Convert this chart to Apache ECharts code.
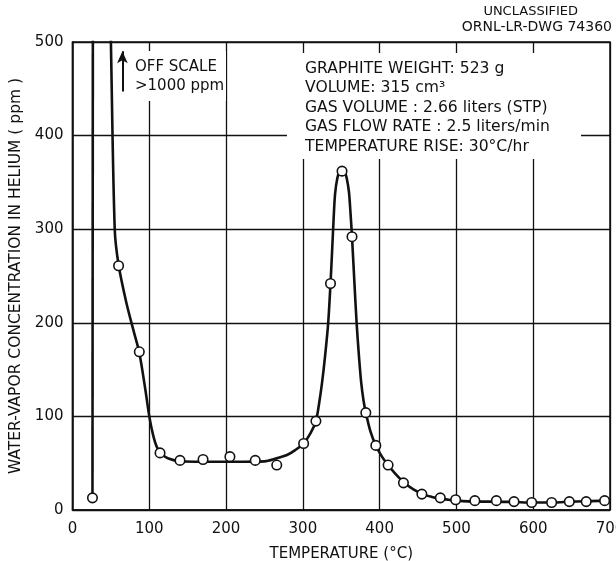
<!DOCTYPE html>
<html>
<head>
<meta charset="utf-8">
<script src="https://cdn.jsdelivr.net/npm/echarts@6/dist/echarts.min.js"></script>
<style>
  html, body { margin: 0; padding: 0; background: #fff; }
  #chart { width: 616px; height: 561px; }
</style>
</head>
<body>
<div id="chart"></div>
<script>
// measured points (open circles)
const measuredTemp = [26, 60, 87, 114, 140, 170, 205, 238, 266, 301, 317, 336, 351, 364, 382, 395, 411, 431, 455, 479, 499, 524, 552, 575, 598, 624, 647, 669, 693];
const measuredPpm  = [13, 261, 169, 61, 53, 54, 57, 53, 48, 71, 95, 242, 362, 292, 104, 69, 48, 29, 17, 13, 11, 10, 10, 9, 8, 8, 9, 9, 10];

// first release: goes off scale (>1000 ppm)
const spikeTemp = [26, 27];
const spikePpm  = [13, 1000];

// hand-drawn fitted curve
const curveTemp = [47.5, 50, 55, 60, 70, 80, 87, 95, 100, 105, 110, 116, 125, 140, 170, 210, 250, 265, 280, 290, 301, 310, 317, 321, 325, 329, 333, 336, 338, 340, 342, 345, 348, 351, 354, 357, 360, 362, 364, 367, 370, 373, 376, 379, 382, 388, 395, 403, 411, 420, 432, 444, 456, 468, 479, 490, 500, 525, 550, 575, 600, 625, 650, 675, 700];
const curvePpm  = [600, 500, 300, 262, 222, 190, 168, 128, 100, 80, 67, 60, 55, 52, 51.5, 51.5, 52, 55, 59, 64, 71, 82, 95, 113, 136, 165, 200, 242, 275, 310, 338, 355, 362, 365, 363, 355, 340, 318, 292, 245, 200, 165, 136, 117, 104, 84, 69, 57, 48, 39, 29, 22, 17, 14, 12, 11, 10, 9, 9, 8.5, 8, 8, 9, 9.5, 10];

const xTicks = [0, 100, 200, 300, 400, 500, 600, 700];
const yTicks = [0, 100, 200, 300, 400, 500];

const infoLines = [
  'GRAPHITE WEIGHT: 523 g',
  'VOLUME: 315 cm³',
  'GAS VOLUME : 2.66 liters (STP)',
  'GAS FLOW RATE : 2.5 liters/min',
  'TEMPERATURE RISE: 30°C/hr'
];

const ink = '#111';
const font = 'DejaVu Sans';

const chart = echarts.init(document.getElementById('chart'), null, {renderer: 'canvas'});

const zip = (a, b) => a.map((v, i) => [v, b[i]]);

const option = {
  backgroundColor: '#fff',
  animation: false,
  textStyle: {fontFamily: font, color: ink},
  grid: {
    left: 72.5,
    right: 6,
    top: 42,
    bottom: 51,
    outerBoundsMode: 'none',
    containLabel: false,
    show: true,
    borderColor: ink,
    borderWidth: 1.5,
    backgroundColor: 'transparent'
  },
  xAxis: {
    type: 'value',
    min: xTicks[0],
    max: xTicks[xTicks.length - 1],
    interval: 100,
    name: 'TEMPERATURE (°C)',
    nameLocation: 'middle',
    nameGap: 37,
    nameTextStyle: {fontSize: 15, color: ink, fontFamily: font},
    axisLine: {show: true, lineStyle: {color: ink, width: 1.5}},
    axisTick: {show: false},
    axisLabel: {fontSize: 15, color: ink, margin: 12, fontFamily: font},
    splitLine: {show: true, lineStyle: {color: ink, width: 1.3}}
  },
  yAxis: {
    type: 'value',
    min: yTicks[0],
    max: yTicks[yTicks.length - 1],
    interval: 100,
    name: 'WATER-VAPOR CONCENTRATION IN HELIUM ( ppm )',
    nameLocation: 'middle',
    nameGap: 48,
    nameTextStyle: {fontSize: 15.5, color: ink, fontFamily: font},
    axisLine: {show: true, lineStyle: {color: ink, width: 1.5}},
    axisTick: {show: false},
    axisLabel: {fontSize: 15, color: ink, margin: 9, fontFamily: font},
    splitLine: {show: true, lineStyle: {color: ink, width: 1.3}}
  },
  graphic: [
    {type: 'rect', z: 10, shape: {x: 287, y: 53, width: 294, height: 106}, style: {fill: '#fff'}},
    {type: 'rect', z: 10, shape: {x: 131, y: 51, width: 95, height: 50}, style: {fill: '#fff'}},
    {
      type: 'text', z: 11, left: 305, top: 59,
      style: {text: infoLines.join('\n'), font: '15.6px "DejaVu Sans"', fill: ink, lineHeight: 19.5}
    },
    {
      type: 'text', z: 11, left: 135, top: 57,
      style: {text: 'OFF SCALE\n>1000 ppm', font: '15px "DejaVu Sans"', fill: ink, lineHeight: 19.5}
    },
    {
      type: 'text', z: 11, right: 38, top: 5,
      style: {text: 'UNCLASSIFIED', font: '13px "DejaVu Sans"', fill: ink}
    },
    {
      type: 'text', z: 11, right: 4, top: 20,
      style: {text: 'ORNL-LR-DWG 74360', font: '14px "DejaVu Sans"', fill: ink}
    }
  ],
  series: [
    {
      name: 'spike',
      type: 'line',
      data: zip(spikeTemp, spikePpm),
      showSymbol: false,
      smooth: false,
      clip: true,
      lineStyle: {color: ink, width: 2.6},
      z: 2
    },
    {
      name: 'curve',
      type: 'line',
      data: zip(curveTemp, curvePpm),
      showSymbol: false,
      smooth: 0.3,
      clip: true,
      lineStyle: {color: ink, width: 2.6},
      z: 2
    },
    {
      name: 'measured',
      type: 'scatter',
      data: zip(measuredTemp, measuredPpm),
      symbol: 'circle',
      symbolSize: 9.5,
      itemStyle: {color: '#fff', borderColor: ink, borderWidth: 1.6, opacity: 1},
      z: 5,
      markLine: {
        silent: true,
        symbol: ['none', 'arrow'],
        symbolSize: [8, 12],
        label: {show: false},
        lineStyle: {color: ink, width: 2, type: 'solid', opacity: 1},
        data: [[{coord: [65, 447]}, {coord: [65, 490]}]]
      }
    }
  ]
};

chart.setOption(option);
</script>
</body>
</html>
